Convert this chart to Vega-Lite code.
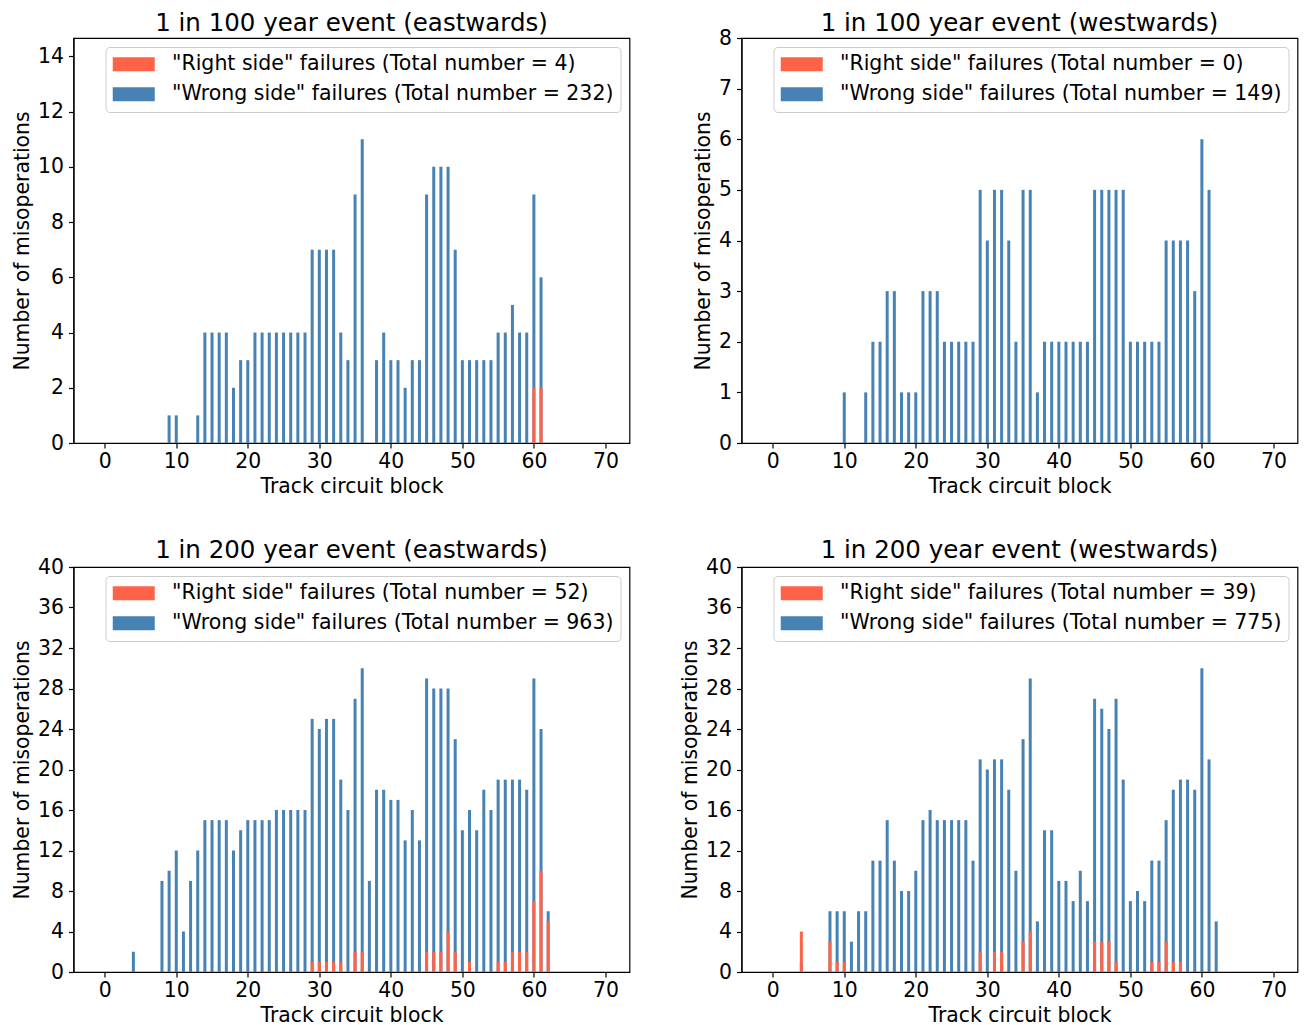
{
  "$schema": "https://vega.github.io/schema/vega-lite/v6.json",
  "background": "white",
  "padding": {"left": 11.5, "top": 9, "right": 5, "bottom": 0},
  "datasets": {
    "e100": [
      {"block": 9, "series": "Wrong side", "count": 1}, {"block": 10, "series": "Wrong side", "count": 1},
      {"block": 13, "series": "Wrong side", "count": 1}, {"block": 14, "series": "Wrong side", "count": 4},
      {"block": 15, "series": "Wrong side", "count": 4}, {"block": 16, "series": "Wrong side", "count": 4},
      {"block": 17, "series": "Wrong side", "count": 4}, {"block": 18, "series": "Wrong side", "count": 2},
      {"block": 19, "series": "Wrong side", "count": 3}, {"block": 20, "series": "Wrong side", "count": 3},
      {"block": 21, "series": "Wrong side", "count": 4}, {"block": 22, "series": "Wrong side", "count": 4},
      {"block": 23, "series": "Wrong side", "count": 4}, {"block": 24, "series": "Wrong side", "count": 4},
      {"block": 25, "series": "Wrong side", "count": 4}, {"block": 26, "series": "Wrong side", "count": 4},
      {"block": 27, "series": "Wrong side", "count": 4}, {"block": 28, "series": "Wrong side", "count": 4},
      {"block": 29, "series": "Wrong side", "count": 7}, {"block": 30, "series": "Wrong side", "count": 7},
      {"block": 31, "series": "Wrong side", "count": 7}, {"block": 32, "series": "Wrong side", "count": 7},
      {"block": 33, "series": "Wrong side", "count": 4}, {"block": 34, "series": "Wrong side", "count": 3},
      {"block": 35, "series": "Wrong side", "count": 9}, {"block": 36, "series": "Wrong side", "count": 11},
      {"block": 38, "series": "Wrong side", "count": 3}, {"block": 39, "series": "Wrong side", "count": 4},
      {"block": 40, "series": "Wrong side", "count": 3}, {"block": 41, "series": "Wrong side", "count": 3},
      {"block": 42, "series": "Wrong side", "count": 2}, {"block": 43, "series": "Wrong side", "count": 3},
      {"block": 44, "series": "Wrong side", "count": 3}, {"block": 45, "series": "Wrong side", "count": 9},
      {"block": 46, "series": "Wrong side", "count": 10}, {"block": 47, "series": "Wrong side", "count": 10},
      {"block": 48, "series": "Wrong side", "count": 10}, {"block": 49, "series": "Wrong side", "count": 7},
      {"block": 50, "series": "Wrong side", "count": 3}, {"block": 51, "series": "Wrong side", "count": 3},
      {"block": 52, "series": "Wrong side", "count": 3}, {"block": 53, "series": "Wrong side", "count": 3},
      {"block": 54, "series": "Wrong side", "count": 3}, {"block": 55, "series": "Wrong side", "count": 4},
      {"block": 56, "series": "Wrong side", "count": 4}, {"block": 57, "series": "Wrong side", "count": 5},
      {"block": 58, "series": "Wrong side", "count": 4}, {"block": 59, "series": "Wrong side", "count": 4},
      {"block": 60, "series": "Wrong side", "count": 9}, {"block": 61, "series": "Wrong side", "count": 6},
      {"block": 60, "series": "Right side", "count": 2}, {"block": 61, "series": "Right side", "count": 2}
    ],
    "w100": [
      {"block": 10, "series": "Wrong side", "count": 1}, {"block": 13, "series": "Wrong side", "count": 1},
      {"block": 14, "series": "Wrong side", "count": 2}, {"block": 15, "series": "Wrong side", "count": 2},
      {"block": 16, "series": "Wrong side", "count": 3}, {"block": 17, "series": "Wrong side", "count": 3},
      {"block": 18, "series": "Wrong side", "count": 1}, {"block": 19, "series": "Wrong side", "count": 1},
      {"block": 20, "series": "Wrong side", "count": 1}, {"block": 21, "series": "Wrong side", "count": 3},
      {"block": 22, "series": "Wrong side", "count": 3}, {"block": 23, "series": "Wrong side", "count": 3},
      {"block": 24, "series": "Wrong side", "count": 2}, {"block": 25, "series": "Wrong side", "count": 2},
      {"block": 26, "series": "Wrong side", "count": 2}, {"block": 27, "series": "Wrong side", "count": 2},
      {"block": 28, "series": "Wrong side", "count": 2}, {"block": 29, "series": "Wrong side", "count": 5},
      {"block": 30, "series": "Wrong side", "count": 4}, {"block": 31, "series": "Wrong side", "count": 5},
      {"block": 32, "series": "Wrong side", "count": 5}, {"block": 33, "series": "Wrong side", "count": 4},
      {"block": 34, "series": "Wrong side", "count": 2}, {"block": 35, "series": "Wrong side", "count": 5},
      {"block": 36, "series": "Wrong side", "count": 5}, {"block": 37, "series": "Wrong side", "count": 1},
      {"block": 38, "series": "Wrong side", "count": 2}, {"block": 39, "series": "Wrong side", "count": 2},
      {"block": 40, "series": "Wrong side", "count": 2}, {"block": 41, "series": "Wrong side", "count": 2},
      {"block": 42, "series": "Wrong side", "count": 2}, {"block": 43, "series": "Wrong side", "count": 2},
      {"block": 44, "series": "Wrong side", "count": 2}, {"block": 45, "series": "Wrong side", "count": 5},
      {"block": 46, "series": "Wrong side", "count": 5}, {"block": 47, "series": "Wrong side", "count": 5},
      {"block": 48, "series": "Wrong side", "count": 5}, {"block": 49, "series": "Wrong side", "count": 5},
      {"block": 50, "series": "Wrong side", "count": 2}, {"block": 51, "series": "Wrong side", "count": 2},
      {"block": 52, "series": "Wrong side", "count": 2}, {"block": 53, "series": "Wrong side", "count": 2},
      {"block": 54, "series": "Wrong side", "count": 2}, {"block": 55, "series": "Wrong side", "count": 4},
      {"block": 56, "series": "Wrong side", "count": 4}, {"block": 57, "series": "Wrong side", "count": 4},
      {"block": 58, "series": "Wrong side", "count": 4}, {"block": 59, "series": "Wrong side", "count": 3},
      {"block": 60, "series": "Wrong side", "count": 6}, {"block": 61, "series": "Wrong side", "count": 5}
    ],
    "e200": [
      {"block": 4, "series": "Wrong side", "count": 2}, {"block": 8, "series": "Wrong side", "count": 9},
      {"block": 9, "series": "Wrong side", "count": 10}, {"block": 10, "series": "Wrong side", "count": 12},
      {"block": 11, "series": "Wrong side", "count": 4}, {"block": 12, "series": "Wrong side", "count": 9},
      {"block": 13, "series": "Wrong side", "count": 12}, {"block": 14, "series": "Wrong side", "count": 15},
      {"block": 15, "series": "Wrong side", "count": 15}, {"block": 16, "series": "Wrong side", "count": 15},
      {"block": 17, "series": "Wrong side", "count": 15}, {"block": 18, "series": "Wrong side", "count": 12},
      {"block": 19, "series": "Wrong side", "count": 14}, {"block": 20, "series": "Wrong side", "count": 15},
      {"block": 21, "series": "Wrong side", "count": 15}, {"block": 22, "series": "Wrong side", "count": 15},
      {"block": 23, "series": "Wrong side", "count": 15}, {"block": 24, "series": "Wrong side", "count": 16},
      {"block": 25, "series": "Wrong side", "count": 16}, {"block": 26, "series": "Wrong side", "count": 16},
      {"block": 27, "series": "Wrong side", "count": 16}, {"block": 28, "series": "Wrong side", "count": 16},
      {"block": 29, "series": "Wrong side", "count": 25}, {"block": 30, "series": "Wrong side", "count": 24},
      {"block": 31, "series": "Wrong side", "count": 25}, {"block": 32, "series": "Wrong side", "count": 25},
      {"block": 33, "series": "Wrong side", "count": 19}, {"block": 34, "series": "Wrong side", "count": 16},
      {"block": 35, "series": "Wrong side", "count": 27}, {"block": 36, "series": "Wrong side", "count": 30},
      {"block": 37, "series": "Wrong side", "count": 9}, {"block": 38, "series": "Wrong side", "count": 18},
      {"block": 39, "series": "Wrong side", "count": 18}, {"block": 40, "series": "Wrong side", "count": 17},
      {"block": 41, "series": "Wrong side", "count": 17}, {"block": 42, "series": "Wrong side", "count": 13},
      {"block": 43, "series": "Wrong side", "count": 16}, {"block": 44, "series": "Wrong side", "count": 13},
      {"block": 45, "series": "Wrong side", "count": 29}, {"block": 46, "series": "Wrong side", "count": 28},
      {"block": 47, "series": "Wrong side", "count": 28}, {"block": 48, "series": "Wrong side", "count": 28},
      {"block": 49, "series": "Wrong side", "count": 23}, {"block": 50, "series": "Wrong side", "count": 14},
      {"block": 51, "series": "Wrong side", "count": 16}, {"block": 52, "series": "Wrong side", "count": 14},
      {"block": 53, "series": "Wrong side", "count": 18}, {"block": 54, "series": "Wrong side", "count": 16},
      {"block": 55, "series": "Wrong side", "count": 19}, {"block": 56, "series": "Wrong side", "count": 19},
      {"block": 57, "series": "Wrong side", "count": 19}, {"block": 58, "series": "Wrong side", "count": 19},
      {"block": 59, "series": "Wrong side", "count": 18}, {"block": 60, "series": "Wrong side", "count": 29},
      {"block": 61, "series": "Wrong side", "count": 24}, {"block": 62, "series": "Wrong side", "count": 6},
      {"block": 29, "series": "Right side", "count": 1}, {"block": 30, "series": "Right side", "count": 1},
      {"block": 31, "series": "Right side", "count": 1}, {"block": 32, "series": "Right side", "count": 1},
      {"block": 33, "series": "Right side", "count": 1}, {"block": 35, "series": "Right side", "count": 2},
      {"block": 36, "series": "Right side", "count": 2}, {"block": 45, "series": "Right side", "count": 2},
      {"block": 46, "series": "Right side", "count": 2}, {"block": 47, "series": "Right side", "count": 2},
      {"block": 48, "series": "Right side", "count": 4}, {"block": 49, "series": "Right side", "count": 2},
      {"block": 51, "series": "Right side", "count": 1}, {"block": 55, "series": "Right side", "count": 1},
      {"block": 56, "series": "Right side", "count": 1}, {"block": 57, "series": "Right side", "count": 2},
      {"block": 58, "series": "Right side", "count": 2}, {"block": 59, "series": "Right side", "count": 2},
      {"block": 60, "series": "Right side", "count": 7}, {"block": 61, "series": "Right side", "count": 10},
      {"block": 62, "series": "Right side", "count": 5}
    ],
    "w200": [
      {"block": 4, "series": "Wrong side", "count": 1}, {"block": 8, "series": "Wrong side", "count": 6},
      {"block": 9, "series": "Wrong side", "count": 6}, {"block": 10, "series": "Wrong side", "count": 6},
      {"block": 11, "series": "Wrong side", "count": 3}, {"block": 12, "series": "Wrong side", "count": 6},
      {"block": 13, "series": "Wrong side", "count": 6}, {"block": 14, "series": "Wrong side", "count": 11},
      {"block": 15, "series": "Wrong side", "count": 11}, {"block": 16, "series": "Wrong side", "count": 15},
      {"block": 17, "series": "Wrong side", "count": 11}, {"block": 18, "series": "Wrong side", "count": 8},
      {"block": 19, "series": "Wrong side", "count": 8}, {"block": 20, "series": "Wrong side", "count": 10},
      {"block": 21, "series": "Wrong side", "count": 15}, {"block": 22, "series": "Wrong side", "count": 16},
      {"block": 23, "series": "Wrong side", "count": 15}, {"block": 24, "series": "Wrong side", "count": 15},
      {"block": 25, "series": "Wrong side", "count": 15}, {"block": 26, "series": "Wrong side", "count": 15},
      {"block": 27, "series": "Wrong side", "count": 15}, {"block": 28, "series": "Wrong side", "count": 11},
      {"block": 29, "series": "Wrong side", "count": 21}, {"block": 30, "series": "Wrong side", "count": 20},
      {"block": 31, "series": "Wrong side", "count": 21}, {"block": 32, "series": "Wrong side", "count": 21},
      {"block": 33, "series": "Wrong side", "count": 18}, {"block": 34, "series": "Wrong side", "count": 10},
      {"block": 35, "series": "Wrong side", "count": 23}, {"block": 36, "series": "Wrong side", "count": 29},
      {"block": 37, "series": "Wrong side", "count": 5}, {"block": 38, "series": "Wrong side", "count": 14},
      {"block": 39, "series": "Wrong side", "count": 14}, {"block": 40, "series": "Wrong side", "count": 9},
      {"block": 41, "series": "Wrong side", "count": 9}, {"block": 42, "series": "Wrong side", "count": 7},
      {"block": 43, "series": "Wrong side", "count": 10}, {"block": 44, "series": "Wrong side", "count": 7},
      {"block": 45, "series": "Wrong side", "count": 27}, {"block": 46, "series": "Wrong side", "count": 26},
      {"block": 47, "series": "Wrong side", "count": 24}, {"block": 48, "series": "Wrong side", "count": 27},
      {"block": 49, "series": "Wrong side", "count": 19}, {"block": 50, "series": "Wrong side", "count": 7},
      {"block": 51, "series": "Wrong side", "count": 8}, {"block": 52, "series": "Wrong side", "count": 7},
      {"block": 53, "series": "Wrong side", "count": 11}, {"block": 54, "series": "Wrong side", "count": 11},
      {"block": 55, "series": "Wrong side", "count": 15}, {"block": 56, "series": "Wrong side", "count": 18},
      {"block": 57, "series": "Wrong side", "count": 19}, {"block": 58, "series": "Wrong side", "count": 19},
      {"block": 59, "series": "Wrong side", "count": 18}, {"block": 60, "series": "Wrong side", "count": 30},
      {"block": 61, "series": "Wrong side", "count": 21}, {"block": 62, "series": "Wrong side", "count": 5},
      {"block": 4, "series": "Right side", "count": 4}, {"block": 8, "series": "Right side", "count": 3},
      {"block": 9, "series": "Right side", "count": 1}, {"block": 10, "series": "Right side", "count": 1},
      {"block": 29, "series": "Right side", "count": 2}, {"block": 31, "series": "Right side", "count": 2},
      {"block": 32, "series": "Right side", "count": 2}, {"block": 35, "series": "Right side", "count": 3},
      {"block": 36, "series": "Right side", "count": 4}, {"block": 45, "series": "Right side", "count": 3},
      {"block": 46, "series": "Right side", "count": 3}, {"block": 47, "series": "Right side", "count": 3},
      {"block": 48, "series": "Right side", "count": 1}, {"block": 53, "series": "Right side", "count": 1},
      {"block": 54, "series": "Right side", "count": 1}, {"block": 55, "series": "Right side", "count": 3},
      {"block": 56, "series": "Right side", "count": 1}, {"block": 57, "series": "Right side", "count": 1}
    ]
  },
  "columns": 2,
  "spacing": {"row": 124, "column": 112},
  "bounds": "flush",
  "resolve": {"scale": {"x": "independent", "y": "independent", "color": "independent"}, "legend": {"color": "independent"}},
  "concat": [
    {
      "width": 556, "height": 405,
      "title": {"text": "1 in 100 year event (eastwards)", "offset": 2},
      "data": {"name": "e100"},
      "encoding": {
        "x": {"field": "block", "type": "quantitative", "title": "Track circuit block",
              "scale": {"domain": [-3.67, 72.67], "nice": false, "zero": false},
              "axis": {"values": [0, 10, 20, 30, 40, 50, 60, 70]}},
        "y": {"field": "count", "type": "quantitative", "stack": null, "title": "Number of misoperations",
              "scale": {"domain": [0, 14.667], "nice": false},
              "axis": {"values": [0, 2, 4, 6, 8, 10, 12, 14]}},
        "color": {"field": "series", "type": "nominal",
                  "scale": {"domain": ["Right side", "Wrong side"], "range": ["#ff6347", "#4682b4"]},
                  "legend": {"labelExpr": "datum.label == 'Right side' ? '\"Right side\" failures (Total number = 4)' : '\"Wrong side\" failures (Total number = 232)'"}}
      },
      "layer": [
        {"transform": [{"filter": "datum.series == 'Wrong side'"}], "mark": {"type": "bar", "size": 3, "orient": "vertical"}},
        {"transform": [{"filter": "datum.series == 'Right side'"}], "mark": {"type": "bar", "size": 3, "orient": "vertical"}}
      ]
    },
    {
      "width": 556, "height": 405,
      "title": {"text": "1 in 100 year event (westwards)", "offset": -8},
      "data": {"name": "w100"},
      "encoding": {
        "x": {"field": "block", "type": "quantitative", "title": "Track circuit block",
              "scale": {"domain": [-3.67, 72.67], "nice": false, "zero": false},
              "axis": {"values": [0, 10, 20, 30, 40, 50, 60, 70]}},
        "y": {"field": "count", "type": "quantitative", "stack": null, "title": "Number of misoperations",
              "scale": {"domain": [0, 8], "nice": false},
              "axis": {"values": [0, 1, 2, 3, 4, 5, 6, 7, 8]}},
        "color": {"field": "series", "type": "nominal",
                  "scale": {"domain": ["Right side", "Wrong side"], "range": ["#ff6347", "#4682b4"]},
                  "legend": {"labelExpr": "datum.label == 'Right side' ? '\"Right side\" failures (Total number = 0)' : '\"Wrong side\" failures (Total number = 149)'"}}
      },
      "layer": [
        {"transform": [{"filter": "datum.series == 'Wrong side'"}], "mark": {"type": "bar", "size": 3, "orient": "vertical"}},
        {"transform": [{"filter": "datum.series == 'Right side'"}], "mark": {"type": "bar", "size": 3, "orient": "vertical"}}
      ]
    },
    {
      "width": 556, "height": 405,
      "title": {"text": "1 in 200 year event (eastwards)", "offset": -6},
      "data": {"name": "e200"},
      "encoding": {
        "x": {"field": "block", "type": "quantitative", "title": "Track circuit block",
              "scale": {"domain": [-3.67, 72.67], "nice": false, "zero": false},
              "axis": {"values": [0, 10, 20, 30, 40, 50, 60, 70]}},
        "y": {"field": "count", "type": "quantitative", "stack": null, "title": "Number of misoperations",
              "scale": {"domain": [0, 40], "nice": false},
              "axis": {"values": [0, 4, 8, 12, 16, 20, 24, 28, 32, 36, 40]}},
        "color": {"field": "series", "type": "nominal",
                  "scale": {"domain": ["Right side", "Wrong side"], "range": ["#ff6347", "#4682b4"]},
                  "legend": {"labelExpr": "datum.label == 'Right side' ? '\"Right side\" failures (Total number = 52)' : '\"Wrong side\" failures (Total number = 963)'"}}
      },
      "layer": [
        {"transform": [{"filter": "datum.series == 'Wrong side'"}], "mark": {"type": "bar", "size": 3, "orient": "vertical"}},
        {"transform": [{"filter": "datum.series == 'Right side'"}], "mark": {"type": "bar", "size": 3, "orient": "vertical"}}
      ]
    },
    {
      "width": 556, "height": 405,
      "title": {"text": "1 in 200 year event (westwards)", "offset": -6},
      "data": {"name": "w200"},
      "encoding": {
        "x": {"field": "block", "type": "quantitative", "title": "Track circuit block",
              "scale": {"domain": [-3.67, 72.67], "nice": false, "zero": false},
              "axis": {"values": [0, 10, 20, 30, 40, 50, 60, 70]}},
        "y": {"field": "count", "type": "quantitative", "stack": null, "title": "Number of misoperations",
              "scale": {"domain": [0, 40], "nice": false},
              "axis": {"values": [0, 4, 8, 12, 16, 20, 24, 28, 32, 36, 40]}},
        "color": {"field": "series", "type": "nominal",
                  "scale": {"domain": ["Right side", "Wrong side"], "range": ["#ff6347", "#4682b4"]},
                  "legend": {"labelExpr": "datum.label == 'Right side' ? '\"Right side\" failures (Total number = 39)' : '\"Wrong side\" failures (Total number = 775)'"}}
      },
      "layer": [
        {"transform": [{"filter": "datum.series == 'Wrong side'"}], "mark": {"type": "bar", "size": 3, "orient": "vertical"}},
        {"transform": [{"filter": "datum.series == 'Right side'"}], "mark": {"type": "bar", "size": 3, "orient": "vertical"}}
      ]
    }
  ],
  "config": {
    "font": "DejaVu Sans",
    "view": {"stroke": "black", "strokeWidth": 1.2},
    "axis": {"grid": false, "domainColor": "black", "domainWidth": 1.2, "tickColor": "black", "tickWidth": 1.2, "tickSize": 5,
             "labelFont": "DejaVu Sans", "labelFontSize": 20.4, "labelColor": "black", "labelOverlap": false, "labelFlush": false,
             "titleFont": "DejaVu Sans", "titleFontSize": 20.4, "titleFontWeight": "normal", "titleColor": "black"},
    "axisX": {"labelPadding": 3, "titlePadding": 5, "labelAngle": 0},
    "axisY": {"labelPadding": 5, "titlePadding": 5},
    "title": {"font": "DejaVu Sans", "fontSize": 24.5, "fontWeight": "normal", "color": "black", "baseline": "alphabetic"},
    "legend": {"orient": "top-right", "offset": 9, "title": null, "labelFont": "DejaVu Sans", "labelFontSize": 20.5, "labelColor": "black",
               "labelLimit": 1000, "symbolType": "M-2.1,-0.7H2.1V0.7H-2.1Z", "symbolSize": 400, "symbolStrokeWidth": 0, "symbolOpacity": 1,
               "symbolOffset": 11, "labelOffset": 28, "rowPadding": 9, "padding": 7, "fillColor": "rgba(255,255,255,0.8)", "strokeColor": "#cccccc",
               "cornerRadius": 4, "strokeWidth": 1}
  }
}
